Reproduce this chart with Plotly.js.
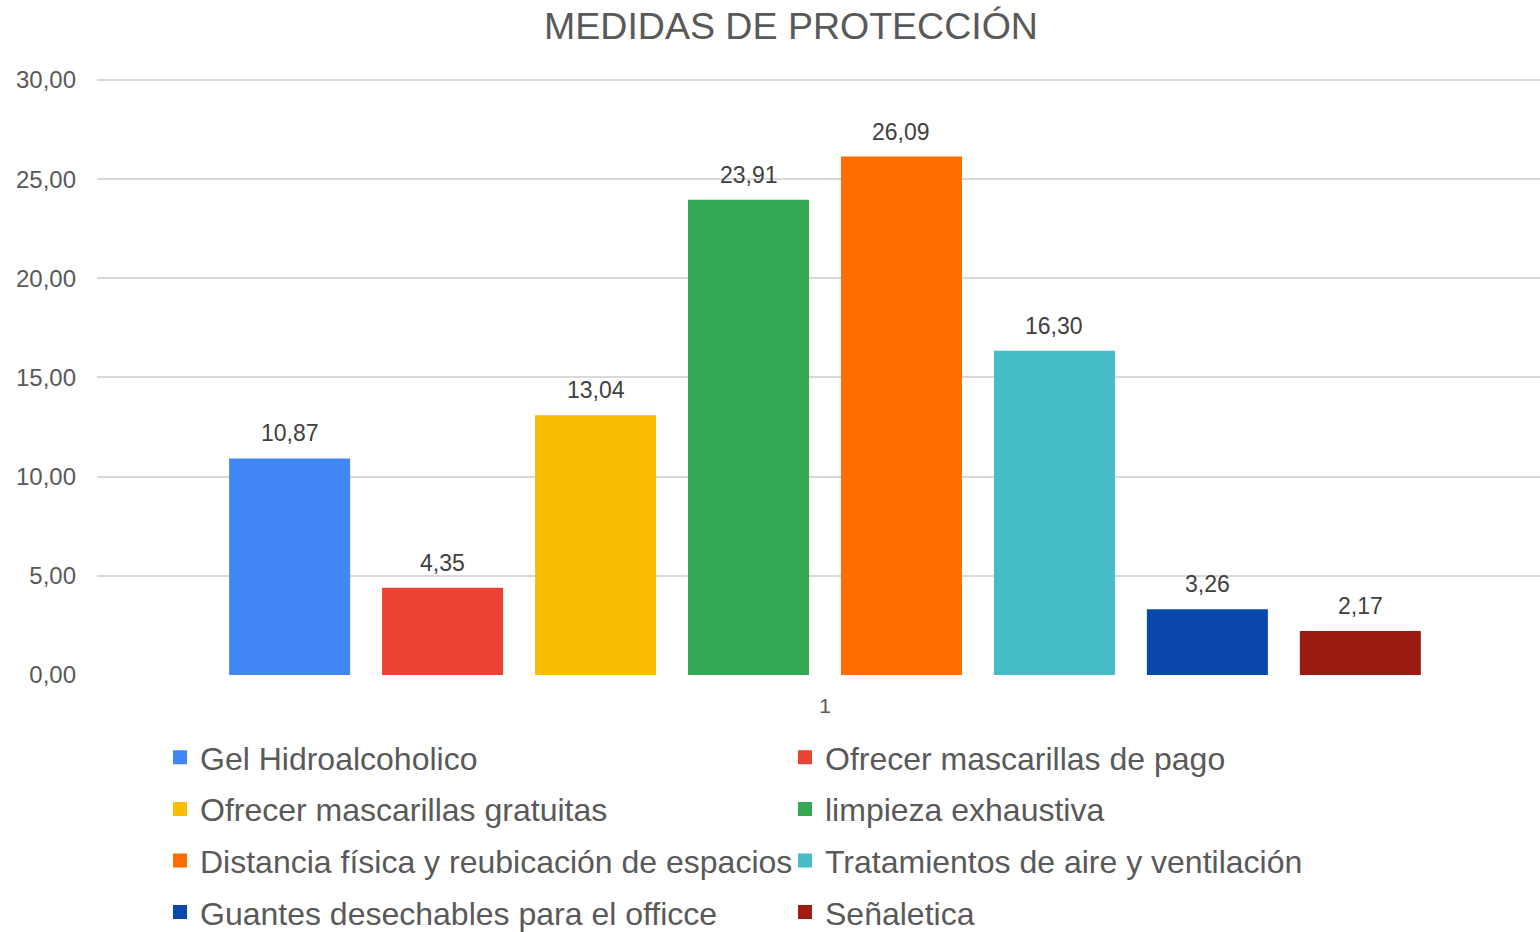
<!DOCTYPE html>
<html>
<head>
<meta charset="utf-8">
<script src="https://cdn.plot.ly/plotly-3.0.1.min.js"></script>
<style>html,body{margin:0;padding:0;background:#fff}#chart{width:1540px;height:932px}</style>
</head>
<body>
<div id="chart"></div>
<script>
const category = ["1"];
const seriesNames = [
  "Gel Hidroalcoholico",
  "Ofrecer mascarillas de pago",
  "Ofrecer mascarillas gratuitas",
  "limpieza exhaustiva",
  "Distancia física y reubicación de espacios",
  "Tratamientos de aire y ventilación",
  "Guantes desechables para el officce",
  "Señaletica"
];
const seriesValues = [10.87, 4.35, 13.04, 23.91, 26.09, 16.30, 3.26, 2.17];
const seriesColors = ["#4285F4", "#EA4335", "#FBBC04", "#34A853", "#FF6D01", "#46BDC6", "#0B48AD", "#9B1C12"];
const yTicks = [0, 5, 10, 15, 20, 25, 30];

const FONT = "Liberation Sans, Arial, sans-serif";

const traces = seriesNames.map((name, i) => ({
  type: "bar",
  name: name,
  x: category,
  y: [seriesValues[i]],
  marker: {color: seriesColors[i], line: {color: seriesColors[i], width: 2}},
  legend: i % 2 === 0 ? "legend" : "legend2",
  legendgroup: "g" + i,
  hoverinfo: "skip"
}));

const plotL = 97, plotW = 1540 - 97;

const legendCommon = {
  orientation: "v",
  yanchor: "top",
  xanchor: "left",
  yref: "container",
  xref: "paper",
  y: 1 - 730 / 932,
  font: {family: FONT, size: 32, color: "#595959"},
  tracegroupgap: 7,
  bgcolor: "rgba(0,0,0,0)",
  itemclick: false,
  itemdoubleclick: false
};

const layout = {
  width: 1540,
  height: 932,
  paper_bgcolor: "#ffffff",
  plot_bgcolor: "#ffffff",
  margin: {l: plotL, r: 0, t: 77, b: 257},
  separators: ",.",
  font: {family: FONT, color: "#595959"},
  title: {
    text: "MEDIDAS DE PROTECCIÓN",
    font: {family: FONT, size: 37.5, color: "#595959"},
    x: 791 / 1540,
    xanchor: "center",
    xref: "container",
    y: 1 - 26 / 932,
    yref: "container",
    yanchor: "middle"
  },
  barmode: "group",
  bargap: 0.152,
  bargroupgap: 0.222,
  showlegend: true,
  xaxis: {
    type: "category",
    range: [-0.5045, 0.4955],
    showgrid: false,
    zeroline: false,
    showline: false,
    ticks: "",
    ticklabelstandoff: 16,
    tickfont: {family: FONT, size: 21, color: "#595959"},
    fixedrange: true
  },
  yaxis: {
    range: [0, 30.15],
    tickvals: yTicks,
    tickformat: ".2f",
    showgrid: true,
    gridcolor: "#D9D9D9",
    gridwidth: 2,
    zeroline: false,
    showline: false,
    ticks: "",
    ticklabelstandoff: 20,
    tickfont: {family: FONT, size: 24, color: "#595959"},
    fixedrange: true
  },
  legend: Object.assign({}, legendCommon, {x: (160 - plotL) / plotW}),
  legend2: Object.assign({}, legendCommon, {x: (785 - plotL) / plotW})
};

Plotly.newPlot("chart", traces, layout, {displayModeBar: false, staticPlot: true}).then(gd => {
  // value labels placed at each bar's computed center (from Plotly's own positioning)
  const annotations = gd.calcdata.map((cd, i) => ({
    xref: "x",
    yref: "y",
    x: cd[0].x,
    y: seriesValues[i],
    text: seriesValues[i].toFixed(2).replace(".", ","),
    showarrow: false,
    yanchor: "bottom",
    yshift: 11,
    font: {family: FONT, size: 23, color: "#404040"}
  }));
  return Plotly.relayout(gd, {annotations: annotations});
});
</script>
</body>
</html>
